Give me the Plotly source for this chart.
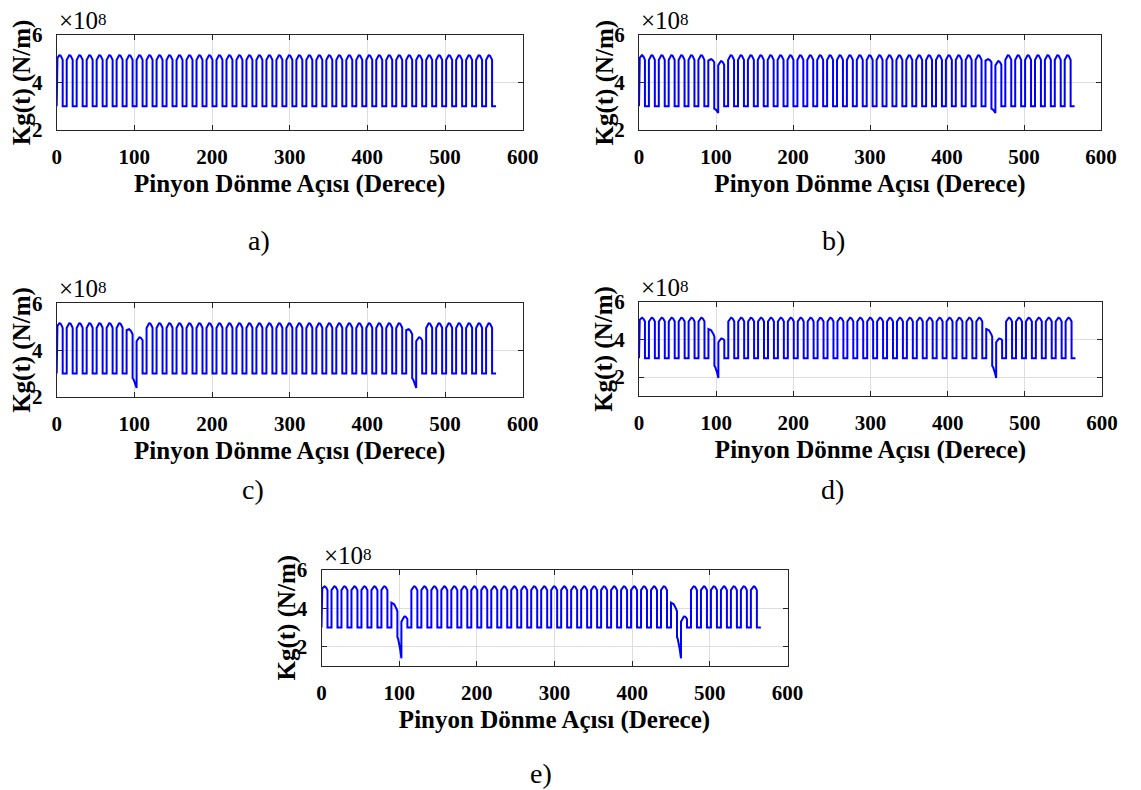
import numpy as np
import plotly.graph_objects as go

# ---------------- data ----------------
teeth = 28                      # pinion teeth -> mesh period 360/28 deg
n_periods = 44                  # mesh periods shown (0 .. ~566 deg)
double_frac = 0.60              # fraction of a period in double-tooth contact
crack_periods = [7, 35]         # mesh periods where the cracked tooth engages
k_low = 3.0                     # single-contact stiffness (x1e8 N/m)
k_arch_base = 4.95              # double-contact edge value
k_arch_bump = 0.20              # double-contact arch height

case_labels = ["a)", "b)", "c)", "d)", "e)"]
pre_start  = [4.95, 4.92, 4.85, 4.55, 4.30]
pre_end    = [4.95, 4.85, 4.68, 4.15, 3.85]
pre_bump   = [0.20, 0.10, 0.12, 0.12, 0.12]
dip_start  = [3.00, 2.90, 2.80, 2.60, 2.50]
dip_end    = [3.00, 2.72, 2.38, 1.95, 1.40]
post_start = [4.95, 4.72, 4.38, 3.85, 3.30]
post_end   = [4.95, 4.75, 4.42, 3.95, 3.45]
post_bump  = [0.20, 0.17, 0.15, 0.15, 0.20]
y_ranges = [[2, 6], [2, 6], [2, 6], [1, 6], [1, 6]]
x_ticks = [0, 100, 200, 300, 400, 500, 600]
y_ticks = [2, 4, 6]

# ---------------- layout geometry (pixels in the 1141x790 window) ----------------
PAGE_MARGIN = 8                 # default body margin of the html page
W, H = 1141 - PAGE_MARGIN, 790 - PAGE_MARGIN
boxes = [  # left, right, top, bottom
    (56.7, 522.7, 35, 130),
    (639.0, 1101.0, 35, 130),
    (56.7, 522.7, 303.3, 397),
    (639.0, 1102.0, 301.7, 396),
    (321.5, 787.5, 570, 666),
]
caption_pos = [(259, 240), (833, 240), (253, 490), (832, 490), (541, 773)]


def px(x):
    return (x - PAGE_MARGIN) / W


def py(y):
    return 1 - (y - PAGE_MARGIN) / H


def stiffness(i):
    T = 360.0 / teeth
    s = np.linspace(0, 1, 25)
    xs, ys = [0.0], [k_low]
    for k in range(n_periods):
        t0 = k * T
        if k in crack_periods:
            a, b, h = pre_start[i], pre_end[i], pre_bump[i]
        elif (k - 1) in crack_periods:
            a, b, h = post_start[i], post_end[i], post_bump[i]
        else:
            a, b, h = k_arch_base, k_arch_base, k_arch_bump
        xs += list(t0 + s * double_frac * T)
        ys += list(a + (b - a) * s + h * np.sin(np.pi * s))
        if k in crack_periods:
            low = dip_start[i] + (dip_end[i] - dip_start[i]) * s ** 1.5
        else:
            low = np.full_like(s, k_low)
        xs += list(t0 + double_frac * T + s * (1 - double_frac) * T)
        ys += list(low)
    return xs, ys


fig = go.Figure()
font_family = "Liberation Serif, Times New Roman, serif"
annotations = []
for i in range(5):
    l, r, t, b = boxes[i]
    xs, ys = stiffness(i)
    n = "" if i == 0 else str(i + 1)
    fig.add_trace(go.Scatter(x=xs, y=ys, mode="lines",
                             line=dict(color="#0000ff", width=2),
                             xaxis="x" + n, yaxis="y" + n, showlegend=False))
    axis_common = dict(showline=True, linecolor="#262626", linewidth=1,
                       mirror="ticks", ticks="inside", ticklen=5,
                       tickcolor="#262626", showgrid=True, gridcolor="#dedede",
                       gridwidth=1, zeroline=False, automargin=False,
                       tickfont=dict(family=font_family, size=21, color="#000",
                                     weight="bold"))
    fig.layout["xaxis" + n] = dict(
        axis_common, domain=[px(l), px(r)], anchor="y" + n,
        range=[0, 600], tickvals=x_ticks, ticklabelstandoff=8,
        title=dict(text="<b>Pinyon Dönme Açısı (Derece)</b>", standoff=6,
                   font=dict(family=font_family, size=25, color="#000")))
    fig.layout["yaxis" + n] = dict(
        axis_common, domain=[py(b), py(t)], anchor="x" + n,
        range=y_ranges[i], tickvals=y_ticks, ticklabelstandoff=9)
    # y-axis title placed as rotated text left of the tick labels
    annotations.append(dict(text="<b>Kg(t) (N/m)</b>", x=px(l - 35),
                            y=py((t + b) / 2), xref="paper", yref="paper",
                            xanchor="center", yanchor="middle", textangle=-90,
                            showarrow=False,
                            font=dict(family=font_family, size=25, color="#000")))
    # axis exponent label "×10^8" (base and superscript as two texts)
    annotations.append(dict(text="×10", x=px(l), y=py(t + 1),
                            xref="paper", yref="paper", xanchor="left",
                            yanchor="bottom", showarrow=False,
                            font=dict(family=font_family, size=25, color="#000")))
    annotations.append(dict(text="8", x=px(l + 39), y=py(max(t - 27, 8)),
                            xref="paper", yref="paper", xanchor="left",
                            yanchor="top", showarrow=False,
                            font=dict(family=font_family, size=17, color="#000")))
    cx, cy = caption_pos[i]
    annotations.append(dict(text=case_labels[i], x=px(cx), y=py(cy),
                            xref="paper", yref="paper", xanchor="center",
                            yanchor="middle", showarrow=False,
                            font=dict(family=font_family, size=28, color="#000")))

fig.update_layout(width=W, height=H, margin=dict(l=0, r=0, t=0, b=0),
                  paper_bgcolor="white", plot_bgcolor="white",
                  annotations=annotations)
fig.write_html("out.html")
